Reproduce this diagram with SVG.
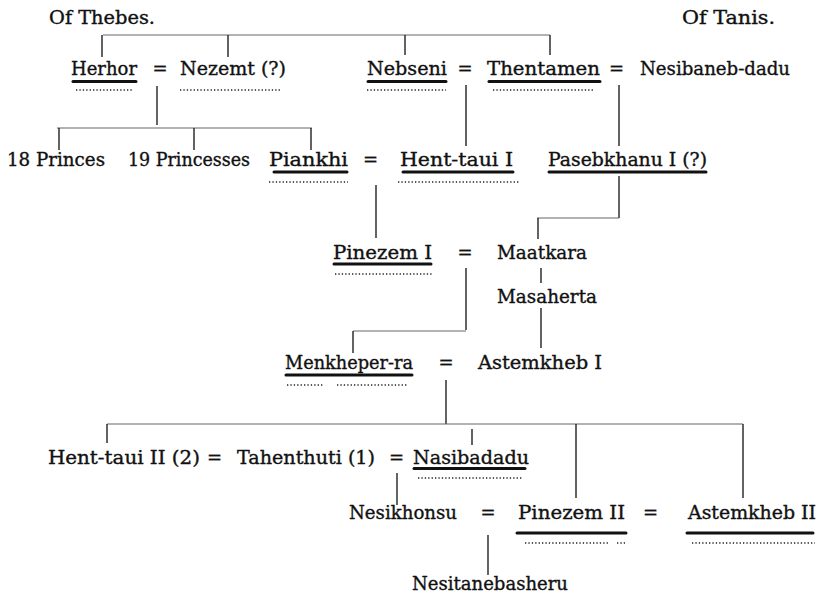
<svg xmlns="http://www.w3.org/2000/svg" width="824" height="595" viewBox="0 0 824 595">
<style>
text{font-family:"DejaVu Serif","Liberation Serif",serif;font-size:18px;fill:#111;stroke:#111;stroke-width:0.35}
.eq{text-anchor:middle}
.ul{stroke:#111;stroke-width:3;stroke-linecap:round;fill:none}
.dt{stroke:#222;stroke-width:1.5;stroke-dasharray:1.3 2.1;fill:none}
.ln{stroke:#222;stroke-width:1.4;fill:none}
.bar{stroke:#666;stroke-width:1.1;fill:none}
</style>
<rect width="824" height="595" fill="#fff"/>
<g id="headings">
<text x="49" y="24" textLength="106" lengthAdjust="spacingAndGlyphs">Of Thebes.</text>
<text x="682" y="24" textLength="93" lengthAdjust="spacingAndGlyphs">Of Tanis.</text>
</g>
<g id="connectors">
<path class="bar" d="M103,35H550"/>
<path class="ln" d="M102,35V57M228,35V57M405,35V55M550,35V55"/>
<path class="ln" d="M157,86V125"/>
<path class="bar" d="M57,128H312"/>
<path class="ln" d="M59,128V150M194,128V150M311,128V150"/>
<path class="ln" d="M466,85V146M619,85V146"/>
<path class="ln" d="M376,185V238"/>
<path class="ln" d="M619,176V218"/>
<path class="bar" d="M537,218H619"/>
<path class="ln" d="M538,218V239"/>
<path class="ln" d="M466,268V330"/>
<path class="bar" d="M353,331H466"/>
<path class="ln" d="M353,331V353"/>
<path class="ln" d="M541,268V283M541,308V348"/>
<path class="ln" d="M446,380V424"/>
<path class="bar" d="M107,424H743"/>
<path class="ln" d="M107,424V443M472,429V445M576,424V498M743,424V498"/>
<path class="ln" d="M397,473V505"/>
<path class="ln" d="M488,535V575"/>
</g>
<g id="herhor">
<text x="71" y="75" textLength="66" lengthAdjust="spacingAndGlyphs">Herhor</text>
<path class="ul" d="M73,81.5H136"/><path class="dt" d="M76,90H133"/>
</g>
<g id="eq1"><text class="eq" x="160" y="75">=</text></g>
<g id="nezemt">
<text x="180" y="75" textLength="106" lengthAdjust="spacingAndGlyphs">Nezemt (?)</text>
<path class="dt" d="M180,90H280"/>
</g>
<g id="nebseni">
<text x="367" y="75" textLength="80" lengthAdjust="spacingAndGlyphs">Nebseni</text>
<path class="ul" d="M368,81.5H446"/><path class="dt" d="M367,90H446"/>
</g>
<g id="eq2"><text class="eq" x="465" y="75">=</text></g>
<g id="thentamen">
<text x="487" y="75" textLength="113" lengthAdjust="spacingAndGlyphs">Thentamen</text>
<path class="ul" d="M489,81.5H600"/><path class="dt" d="M493,90H593"/>
</g>
<g id="eq3"><text class="eq" x="616.5" y="75">=</text></g>
<g id="nesibaneb-dadu">
<text x="640" y="75" textLength="150" lengthAdjust="spacingAndGlyphs">Nesibaneb-dadu</text>
</g>
<g id="princes">
<text x="7" y="166" textLength="98" lengthAdjust="spacingAndGlyphs">18 Princes</text>
</g>
<g id="princesses">
<text x="128" y="166" textLength="122" lengthAdjust="spacingAndGlyphs">19 Princesses</text>
</g>
<g id="piankhi">
<text x="269" y="166" textLength="79" lengthAdjust="spacingAndGlyphs">Piankhi</text>
<path class="ul" d="M274,172H347"/><path class="dt" d="M269,182H348"/>
</g>
<g id="eq4"><text class="eq" x="370.5" y="166">=</text></g>
<g id="hent-taui-1">
<text x="400" y="166" textLength="113" lengthAdjust="spacingAndGlyphs">Hent-taui I</text>
<path class="ul" d="M403,172H513"/><path class="dt" d="M398,182H520"/>
</g>
<g id="pasebkhanu">
<text x="548" y="166" textLength="159" lengthAdjust="spacingAndGlyphs">Pasebkhanu I (?)</text>
<path class="ul" d="M549,172H706"/>
</g>
<g id="pinezem-1">
<text x="333" y="259" textLength="99" lengthAdjust="spacingAndGlyphs">Pinezem I</text>
<path class="ul" d="M334,264H431"/><path class="dt" d="M335,274H433"/>
</g>
<g id="eq5"><text class="eq" x="465" y="259">=</text></g>
<g id="maatkara">
<text x="497" y="259" textLength="90" lengthAdjust="spacingAndGlyphs">Maatkara</text>
</g>
<g id="masaherta">
<text x="497" y="303" textLength="100" lengthAdjust="spacingAndGlyphs">Masaherta</text>
</g>
<g id="menkheper-ra">
<text x="285" y="369" textLength="128" lengthAdjust="spacingAndGlyphs">Menkheper-ra</text>
<path class="ul" d="M286,375H412"/><path class="dt" d="M287,385H323M337,385H408"/>
</g>
<g id="eq6"><text class="eq" x="446" y="369">=</text></g>
<g id="astemkheb-1">
<text x="478" y="369" textLength="124" lengthAdjust="spacingAndGlyphs">Astemkheb I</text>
</g>
<g id="hent-taui-2">
<text x="48" y="464" textLength="152" lengthAdjust="spacingAndGlyphs">Hent-taui II (2)</text>
</g>
<g id="eq7"><text class="eq" x="214.5" y="464">=</text></g>
<g id="tahenthuti">
<text x="237" y="464" textLength="138" lengthAdjust="spacingAndGlyphs">Tahenthuti (1)</text>
</g>
<g id="eq8"><text class="eq" x="396.5" y="464">=</text></g>
<g id="nasibadadu">
<text x="413" y="464" textLength="116" lengthAdjust="spacingAndGlyphs">Nasibadadu</text>
<path class="ul" d="M414,468.5H525"/><path class="dt" d="M418,478H522"/>
</g>
<g id="nesikhonsu">
<text x="349" y="519" textLength="108" lengthAdjust="spacingAndGlyphs">Nesikhonsu</text>
</g>
<g id="eq9"><text class="eq" x="488" y="519">=</text></g>
<g id="pinezem-2">
<text x="518" y="519" textLength="107" lengthAdjust="spacingAndGlyphs">Pinezem II</text>
<path class="ul" d="M517,533H626"/><path class="dt" d="M525,543H608M617,543H625"/>
</g>
<g id="eq10"><text class="eq" x="650.5" y="519">=</text></g>
<g id="astemkheb-2">
<text x="688" y="519" textLength="128" lengthAdjust="spacingAndGlyphs">Astemkheb II</text>
<path class="ul" d="M687,533H813"/><path class="dt" d="M692,543H815"/>
</g>
<g id="nesitanebasheru">
<text x="412" y="590" textLength="156" lengthAdjust="spacingAndGlyphs">Nesitanebasheru</text>
</g>
</svg>
